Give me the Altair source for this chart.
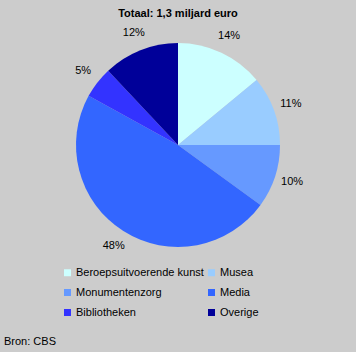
import altair as alt
import pandas as pd

categories = ["Beroepsuitvoerende kunst", "Musea", "Monumentenzorg", "Media", "Bibliotheken", "Overige"]
values = [14, 11, 10, 48, 5, 12]
labels = ["14%", "11%", "10%", "48%", "5%", "12%"]
colors = ["#CCFFFF", "#99CCFF", "#6699FF", "#3366FF", "#3333FF", "#000099"]

df = pd.DataFrame({"cat": categories, "val": values, "label": labels, "order": list(range(len(values)))})

FONT = "Liberation Sans"
cx, cy = 178, 145

base = alt.Chart(df).encode(
    theta=alt.Theta("val:Q", stack=True),
    order=alt.Order("order:Q", sort="ascending"),
)

pie = base.mark_arc(outerRadius=102, stroke=None).encode(
    x=alt.value(cx), y=alt.value(cy),
    color=alt.Color(
        "cat:N",
        scale=alt.Scale(domain=categories, range=colors),
        sort=categories,
        legend=alt.Legend(
            title=None, orient="none", legendX=62, legendY=267, columns=2,
            direction="horizontal",
            symbolType="square", symbolSize=49, symbolStrokeWidth=0,
            labelFont=FONT, labelFontSize=11, labelColor="#000000",
            labelOffset=3, rowPadding=8, columnPadding=2, labelLimit=300,
        ),
    ),
)

text = base.mark_text(radius=120, font=FONT, fontSize=11, color="#000000").encode(
    x=alt.value(cx), y=alt.value(cy), text="label:N"
)

title_df = pd.DataFrame({"t": ["Totaal: 1,3 miljard euro"]})
title = alt.Chart(title_df).mark_text(font=FONT, fontSize=11, fontWeight="bold", color="#000000").encode(
    x=alt.value(178), y=alt.value(14), text="t:N"
)
src_df = pd.DataFrame({"t": ["Bron: CBS"]})
src = alt.Chart(src_df).mark_text(font=FONT, fontSize=11, align="left", color="#000000").encode(
    x=alt.value(4), y=alt.value(342), text="t:N"
)

chart = alt.layer(pie, text, title, src).properties(
    width=356, height=352, background="#CCCCCC",
    autosize=alt.AutoSizeParams(type="none"), padding=0,
).configure_view(stroke=None)

chart.save("out.html", embed_options={"renderer": "svg", "actions": False})
